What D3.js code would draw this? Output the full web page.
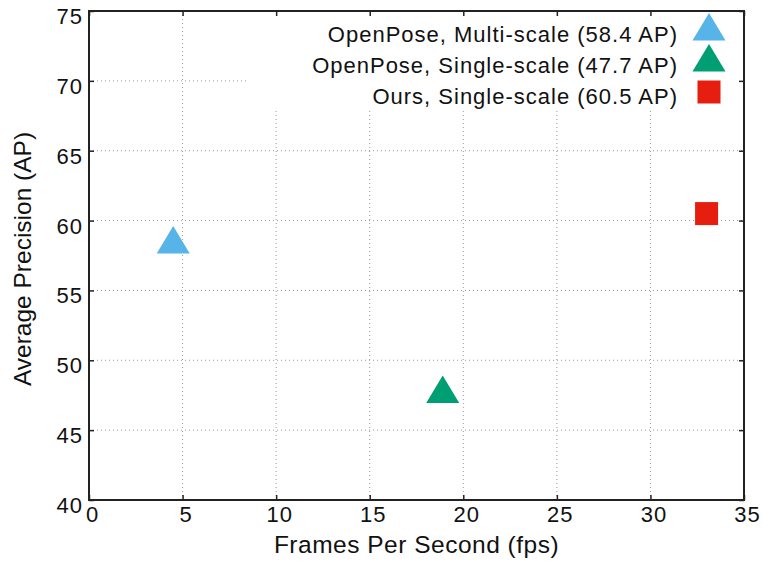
<!DOCTYPE html>
<html>
<meta charset="utf-8">
<head>
  <title>AP vs FPS</title>
</head>
<style>
  body { margin: 0; background: #fff; }
  text { font-family: "Liberation Sans", Arial, sans-serif; fill: #111; }
</style>
<script src="https://d3js.org/d3.v7.min.js"></script>
<body>
<div id="chart"></div>
<script>

// data
var methods = ["OpenPose, Multi-scale (58.4 AP)", "OpenPose, Single-scale (47.7 AP)", "Ours, Single-scale (60.5 AP)"];
var fps = [4.5, 18.9, 33.0];
var ap = [58.4, 47.7, 60.5];
var shapes = ["triangle", "triangle", "square"];
var colors = ["#56b4e9", "#009e73", "#e51e10"];
var xTicks = [0, 5, 10, 15, 20, 25, 30, 35];
var yTicks = [40, 45, 50, 55, 60, 65, 70, 75];

var W = 763, H = 561;
var margin = {top: 11, right: 19, bottom: 61, left: 89};
var width = W - margin.left - margin.right,
    height = H - margin.top - margin.bottom;

var svg = d3.select("#chart").append("svg")
  .attr("width", W).attr("height", H);

var g = svg.append("g")
  .attr("transform", "translate(" + margin.left + "," + margin.top + ")");

var x = d3.scaleLinear().domain([0, 35]).range([0, width]);
var y = d3.scaleLinear().domain([40, 75]).range([height, 0]);

// grid
g.selectAll(".vgrid").data(xTicks.slice(1, -1)).enter().append("line")
  .attr("x1", function(d) { return x(d); }).attr("x2", function(d) { return x(d); })
  .attr("y1", 0).attr("y2", height)
  .style("stroke", "#999").style("stroke-width", 1).style("stroke-dasharray", "1,3");
g.selectAll(".hgrid").data(yTicks.slice(1, -1)).enter().append("line")
  .attr("y1", function(d) { return y(d); }).attr("y2", function(d) { return y(d); })
  .attr("x1", 0).attr("x2", width)
  .style("stroke", "#999").style("stroke-width", 1).style("stroke-dasharray", "1,3");

// legend background hides the grid behind it
var legX = 157, legH = 97;
g.append("rect").attr("x", legX).attr("y", 0)
  .attr("width", width - legX).attr("height", legH)
  .style("fill", "#fff");

// axes with inward ticks on all four sides
var tick = 5;
g.append("g").attr("transform", "translate(0," + height + ")")
  .call(d3.axisBottom(x).tickValues(xTicks).tickSize(-tick).tickFormat(""));
g.append("g")
  .call(d3.axisTop(x).tickValues(xTicks).tickSize(-tick).tickFormat(""));
g.append("g")
  .call(d3.axisLeft(y).tickValues(yTicks).tickSize(-tick).tickFormat(""));
g.append("g").attr("transform", "translate(" + width + ",0)")
  .call(d3.axisRight(y).tickValues(yTicks).tickSize(-tick).tickFormat(""));
g.selectAll(".domain").remove();
g.selectAll(".tick line").style("stroke", "#222").style("stroke-width", 1.5);

g.append("rect").attr("width", width).attr("height", height)
  .style("fill", "none").style("stroke", "#222").style("stroke-width", 2);

// tick labels
g.selectAll(".xl").data(xTicks).enter().append("text")
  .attr("x", function(d) { return x(d) + 3.5; })
  .attr("y", height + 22)
  .attr("text-anchor", "middle")
  .style("font-size", "22px").style("letter-spacing", "1px")
  .text(function(d) { return d; });
g.selectAll(".yl").data(yTicks).enter().append("text")
  .attr("x", -6)
  .attr("y", function(d) { return y(d) + 13; })
  .attr("text-anchor", "end")
  .style("font-size", "22px").style("letter-spacing", "1px")
  .text(function(d) { return d; });

// axis titles
svg.append("text")
  .attr("x", margin.left + width / 2).attr("y", 553)
  .attr("text-anchor", "middle")
  .style("font-size", "24.5px").style("letter-spacing", "0.5px")
  .text("Frames Per Second (fps)");
svg.append("text")
  .attr("transform", "translate(31,259) rotate(-90)")
  .attr("text-anchor", "middle")
  .style("font-size", "24.5px")
  .text("Average Precision (AP)");

// markers
function marker(sel, i) {
  if (shapes[i] === "square") {
    sel.append("rect").attr("x", -11.5).attr("y", -11.5)
      .attr("width", 23).attr("height", 23).style("fill", colors[i]);
  } else {
    sel.append("path").attr("d", "M0,-17L16.5,10.5L-16.5,10.5Z").style("fill", colors[i]);
  }
}

var pts = g.selectAll(".pt").data(methods).enter().append("g")
  .attr("transform", function(d, i) { return "translate(" + x(fps[i]) + "," + y(ap[i]) + ")"; })
  .each(function(d, i) { marker(d3.select(this), i); });

// legend
var leg = g.selectAll(".leg").data(methods).enter().append("g")
  .attr("transform", function(d, i) { return "translate(0," + (i * 31) + ")"; });
leg.append("text")
  .attr("x", 589).attr("y", 30.5)
  .attr("text-anchor", "end")
  .style("font-size", "22px").style("letter-spacing", "1px")
  .text(function(d) { return d; });
leg.append("g")
  .attr("transform", "translate(620,19)")
  .each(function(d, i) { marker(d3.select(this), i); });

</script>
</body>
</html>
